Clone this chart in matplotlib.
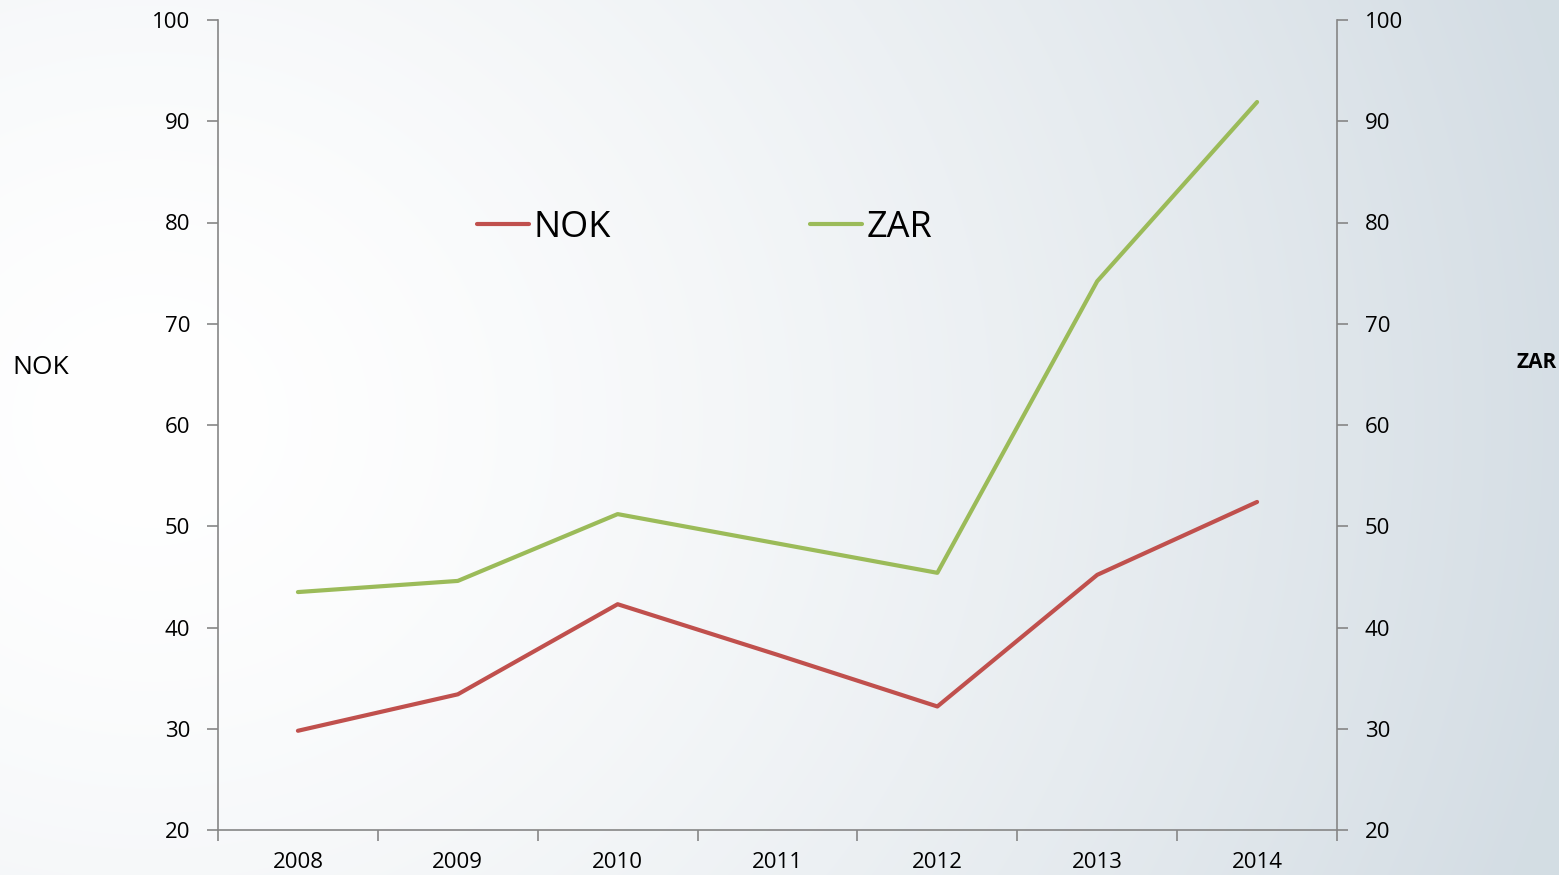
import numpy as np
import matplotlib.pyplot as plt

plt.rcParams['font.family'] = ['Open Sans', 'DejaVu Sans']

years = ['2008', '2009', '2010', '2011', '2012', '2013', '2014']
nok = [29.8, 33.4, 42.3, 37.3, 32.2, 45.2, 52.4]
zar = [43.5, 44.6, 51.2, 48.3, 45.4, 74.2, 91.9]

RED = '#C0504D'
GREEN = '#9BBB59'
SPINE = '#868686'

W, H = 1559, 875
fig = plt.figure(figsize=(W / 100, H / 100), dpi=100)

# background: soft radial gradient, white on the left, blue-grey on the right
bg = fig.add_axes([0, 0, 1, 1], zorder=-10)
yy, xx = np.mgrid[0:H, 0:W]
d = np.hypot(xx - 150, (yy - 420) * 1.1) / 1450
t = np.clip(d, 0, 1) ** 1.5
c0 = np.array([255, 255, 255]) / 255
c1 = np.array([212, 221, 228]) / 255
img = c0[None, None, :] * (1 - t[..., None]) + c1[None, None, :] * t[..., None]
bg.imshow(img, aspect='auto', extent=[0, 1, 0, 1], origin='upper')
bg.axis('off')

L, R, T, B = 218 / W, 1337 / W, 20 / H, 830 / H
ax = fig.add_axes([L, 1 - B, R - L, B - T])
ax.patch.set_alpha(0)

x = np.arange(len(years))
ax.plot(x, nok, color=RED, lw=3, solid_capstyle='round', label='NOK', zorder=3)
ax2 = ax.twinx()
ax2.plot(x, zar, color=GREEN, lw=3, solid_capstyle='round', label='ZAR', zorder=3)

for a in (ax, ax2):
    a.set_ylim(20, 100)
    a.set_yticks(range(20, 101, 10))
    a.set_xlim(-0.5, len(years) - 0.5)
    a.spines['top'].set_visible(False)
    for s in a.spines.values():
        s.set_color(SPINE)
        s.set_linewidth(1.2)
    a.tick_params(axis='y', colors=SPINE, labelcolor='black', labelsize=16,
                  length=8, width=1.2, pad=12)

ax.spines['right'].set_visible(False)
ax2.spines['left'].set_visible(False)
ax2.spines['bottom'].set_visible(False)

# category axis: ticks between categories, labels centred
ax.set_xticks(np.arange(len(years) + 1) - 0.5)
ax.set_xticklabels([])
ax.set_xticks(x, minor=True)
ax.set_xticklabels(years, minor=True)
ax.tick_params(axis='x', which='major', colors=SPINE, length=8, width=1.2)
ax.tick_params(axis='x', which='minor', length=0, labelsize=16, pad=16,
               labelcolor='black')

fig.text(12 / W, 1 - 367 / H, 'NOK', fontsize=19, va='center', ha='left')
fig.text(1557 / W, 1 - 362 / H, 'ZAR', fontsize=15, weight='bold',
         va='center', ha='right')

h1, l1 = ax.get_legend_handles_labels()
h2, l2 = ax2.get_legend_handles_labels()
ax2.legend(h1 + h2, l1 + l2, ncol=2, frameon=False, fontsize=26,
           loc='center left', bbox_to_anchor=(477 / W, 1 - 228 / H),
           bbox_transform=fig.transFigure, borderpad=0, borderaxespad=0,
           handlelength=1.45, handletextpad=0.12, columnspacing=5.5)

fig.savefig('out.png', dpi=100)
